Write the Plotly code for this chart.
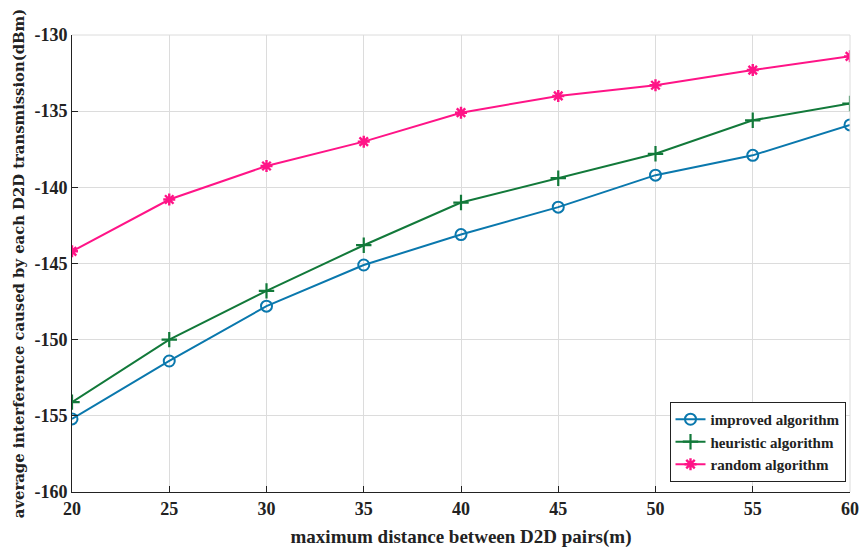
import plotly.graph_objects as go

distance = [20, 25, 30, 35, 40, 45, 50, 55, 60]
improved = [-155.2, -151.4, -147.8, -145.1, -143.1, -141.3, -139.2, -137.9, -135.9]
heuristic = [-154.1, -150.0, -146.8, -143.8, -141.0, -139.4, -137.8, -135.6, -134.5]
random_alg = [-144.2, -140.8, -138.6, -137.0, -135.1, -134.0, -133.3, -132.3, -131.4]
x_ticks = [20, 25, 30, 35, 40, 45, 50, 55, 60]
y_ticks = [-160, -155, -150, -145, -140, -135, -130]

FONT = "Liberation Serif"

fig = go.Figure()
fig.add_trace(go.Scatter(x=distance, y=improved, mode="lines+markers", name="<b>improved algorithm</b>",
                         line=dict(color="#0a78ad", width=2),
                         marker=dict(symbol="circle-open", size=11, color="#0a78ad", line=dict(width=2))))
fig.add_trace(go.Scatter(x=distance, y=heuristic, mode="lines+markers", name="<b>heuristic algorithm</b>",
                         line=dict(color="#12793a", width=2),
                         marker=dict(symbol="cross-thin-open", size=11, color="#12793a", line=dict(width=2.2, color="#12793a"))))
fig.add_trace(go.Scatter(x=distance, y=random_alg, mode="lines+markers", name="<b>random algorithm</b>",
                         line=dict(color="#ff1487", width=2),
                         marker=dict(symbol="asterisk-open", size=10, color="#ff1487", line=dict(width=2.4, color="#ff1487"))))

fig.update_layout(
    width=860, height=552,
    margin=dict(l=72, r=10, t=35, b=60),
    plot_bgcolor="white", paper_bgcolor="white",
    font=dict(family=FONT, size=18, color="#222"),
    showlegend=True,
    legend=dict(x=0.768, y=0.197, xanchor="left", yanchor="top",
                bordercolor="#222", borderwidth=1, bgcolor="white",
                font=dict(family=FONT, size=15, color="#222"),
                tracegroupgap=0, itemwidth=30),
    xaxis=dict(range=[20, 60], tickvals=x_ticks, ticktext=[f"<b>{v}</b>" for v in x_ticks],
               showgrid=True, gridcolor="#dcdcdc", gridwidth=1,
               showline=True, linecolor="#222", linewidth=1, mirror=False,
               ticks="inside", ticklen=6, tickcolor="#222", automargin=False,
               title=dict(text="<b>maximum distance between D2D pairs(m)</b>", font=dict(size=19), standoff=12),
               zeroline=False),
    yaxis=dict(range=[-160, -130], tickvals=y_ticks, ticktext=[f"<b>{v}</b>" for v in y_ticks],
               showgrid=True, gridcolor="#dcdcdc", gridwidth=1,
               showline=True, linecolor="#222", linewidth=1,
               ticks="inside", ticklen=6, tickcolor="#222", automargin=False,
               title=dict(text="<b>average interference caused by each D2D transmission(dBm)</b>",
                          font=dict(family="DejaVu Serif", size=14.8), standoff=6),
               zeroline=False),
)
# light top/right box
fig.add_shape(type="line", xref="paper", yref="paper", x0=0, x1=1, y0=1, y1=1, line=dict(color="#dcdcdc", width=1))
fig.add_shape(type="line", xref="paper", yref="paper", x0=1, x1=1, y0=0, y1=1, line=dict(color="#dcdcdc", width=1))

fig.write_html("out.html", config={"displayModeBar": False},
               post_script="document.body.style.margin='0';document.body.style.overflow='hidden';")
